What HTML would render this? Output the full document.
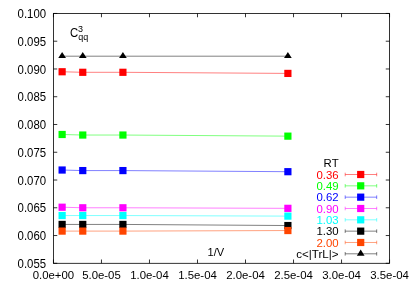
<!DOCTYPE html>
<html><head><meta charset="utf-8"><title>chart</title>
<style>html,body{margin:0;padding:0;background:#fff}body{width:409px;height:286px;overflow:hidden;font-family:"Liberation Sans",sans-serif}</style>
</head><body>
<svg width="409" height="286" viewBox="0 0 409 286" style="display:block;will-change:transform">
<rect width="409" height="286" fill="#fff"/>
<path d="M345.2 174.50H376.7M345.2 172.70v3.6M376.7 172.70v3.6" stroke="#ff0000" stroke-width="0.5" fill="none"/>
<rect x="357.10" y="170.90" width="7.2" height="7.2" fill="#ff0000"/>
<path d="M345.2 185.83H376.7M345.2 184.03v3.6M376.7 184.03v3.6" stroke="#00ff00" stroke-width="0.5" fill="none"/>
<rect x="357.10" y="182.23" width="7.2" height="7.2" fill="#00ff00"/>
<path d="M345.2 197.16H376.7M345.2 195.36v3.6M376.7 195.36v3.6" stroke="#0000ff" stroke-width="0.5" fill="none"/>
<rect x="357.10" y="193.56" width="7.2" height="7.2" fill="#0000ff"/>
<path d="M345.2 208.49H376.7M345.2 206.69v3.6M376.7 206.69v3.6" stroke="#ff00ff" stroke-width="0.5" fill="none"/>
<rect x="357.10" y="204.89" width="7.2" height="7.2" fill="#ff00ff"/>
<path d="M345.2 219.82H376.7M345.2 218.02v3.6M376.7 218.02v3.6" stroke="#00ffff" stroke-width="0.5" fill="none"/>
<rect x="357.10" y="216.22" width="7.2" height="7.2" fill="#00ffff"/>
<path d="M345.2 231.15H376.7M345.2 229.35v3.6M376.7 229.35v3.6" stroke="#000000" stroke-width="0.5" fill="none"/>
<rect x="357.10" y="227.55" width="7.2" height="7.2" fill="#000000"/>
<path d="M345.2 242.48H376.7M345.2 240.68v3.6M376.7 240.68v3.6" stroke="#ff4500" stroke-width="0.5" fill="none"/>
<rect x="357.10" y="238.88" width="7.2" height="7.2" fill="#ff4500"/>
<path d="M345.2 253.81H376.7M345.2 252.01v3.6M376.7 252.01v3.6" stroke="#000" stroke-width="0.5" fill="none"/>
<path d="M360.70 249.56l3.85 6.1h-7.7z" fill="#000"/>
<polyline points="62.13,56.20 82.76,56.20 122.92,56.20 287.89,56.20" stroke="#000" stroke-width="0.5" fill="none"/>
<path d="M62.13 51.95l3.85 6.1h-7.7z" fill="#000"/>
<path d="M82.76 51.95l3.85 6.1h-7.7z" fill="#000"/>
<path d="M122.92 51.95l3.85 6.1h-7.7z" fill="#000"/>
<path d="M287.89 51.95l3.85 6.1h-7.7z" fill="#000"/>
<polyline points="62.13,71.75 82.76,72.30 122.92,72.30 287.89,73.41" stroke="#ff0000" stroke-width="0.5" fill="none"/>
<rect x="58.53" y="68.15" width="7.2" height="7.2" fill="#ff0000"/>
<rect x="79.16" y="68.70" width="7.2" height="7.2" fill="#ff0000"/>
<rect x="119.32" y="68.70" width="7.2" height="7.2" fill="#ff0000"/>
<rect x="284.29" y="69.81" width="7.2" height="7.2" fill="#ff0000"/>
<polyline points="62.13,134.49 82.76,135.04 122.92,135.04 287.89,136.15" stroke="#00ff00" stroke-width="0.5" fill="none"/>
<rect x="58.53" y="130.89" width="7.2" height="7.2" fill="#00ff00"/>
<rect x="79.16" y="131.44" width="7.2" height="7.2" fill="#00ff00"/>
<rect x="119.32" y="131.44" width="7.2" height="7.2" fill="#00ff00"/>
<rect x="284.29" y="132.55" width="7.2" height="7.2" fill="#00ff00"/>
<polyline points="62.13,170.02 82.76,170.58 122.92,170.58 287.89,171.69" stroke="#0000ff" stroke-width="0.5" fill="none"/>
<rect x="58.53" y="166.42" width="7.2" height="7.2" fill="#0000ff"/>
<rect x="79.16" y="166.98" width="7.2" height="7.2" fill="#0000ff"/>
<rect x="119.32" y="166.98" width="7.2" height="7.2" fill="#0000ff"/>
<rect x="284.29" y="168.09" width="7.2" height="7.2" fill="#0000ff"/>
<polyline points="62.13,207.22 82.76,207.78 122.92,207.78 287.89,208.33" stroke="#ff00ff" stroke-width="0.5" fill="none"/>
<rect x="58.53" y="203.62" width="7.2" height="7.2" fill="#ff00ff"/>
<rect x="79.16" y="204.18" width="7.2" height="7.2" fill="#ff00ff"/>
<rect x="119.32" y="204.18" width="7.2" height="7.2" fill="#ff00ff"/>
<rect x="284.29" y="204.73" width="7.2" height="7.2" fill="#ff00ff"/>
<polyline points="62.13,215.55 82.76,215.55 122.92,215.55 287.89,216.11" stroke="#00ffff" stroke-width="0.5" fill="none"/>
<rect x="58.53" y="211.95" width="7.2" height="7.2" fill="#00ffff"/>
<rect x="79.16" y="211.95" width="7.2" height="7.2" fill="#00ffff"/>
<rect x="119.32" y="211.95" width="7.2" height="7.2" fill="#00ffff"/>
<rect x="284.29" y="212.51" width="7.2" height="7.2" fill="#00ffff"/>
<polyline points="62.13,224.43 82.76,224.43 122.92,224.43 287.89,225.54" stroke="#000000" stroke-width="0.5" fill="none"/>
<rect x="58.53" y="220.83" width="7.2" height="7.2" fill="#000000"/>
<rect x="79.16" y="220.83" width="7.2" height="7.2" fill="#000000"/>
<rect x="119.32" y="220.83" width="7.2" height="7.2" fill="#000000"/>
<rect x="284.29" y="221.94" width="7.2" height="7.2" fill="#000000"/>
<polyline points="62.13,231.10 82.76,231.10 122.92,231.10 287.89,230.54" stroke="#ff4500" stroke-width="0.5" fill="none"/>
<rect x="58.53" y="227.50" width="7.2" height="7.2" fill="#ff4500"/>
<rect x="79.16" y="227.50" width="7.2" height="7.2" fill="#ff4500"/>
<rect x="119.32" y="227.50" width="7.2" height="7.2" fill="#ff4500"/>
<rect x="284.29" y="226.94" width="7.2" height="7.2" fill="#ff4500"/>
<rect x="53.45" y="13.45" width="336.10" height="249.85" fill="none" stroke="#000" stroke-width="0.8"/>
<path d="M53.45 13.45h3.8M389.55 13.45h-3.8M53.45 41.21h3.8M389.55 41.21h-3.8M53.45 68.97h3.8M389.55 68.97h-3.8M53.45 96.73h3.8M389.55 96.73h-3.8M53.45 124.49h3.8M389.55 124.49h-3.8M53.45 152.26h3.8M389.55 152.26h-3.8M53.45 180.02h3.8M389.55 180.02h-3.8M53.45 207.78h3.8M389.55 207.78h-3.8M53.45 235.54h3.8M389.55 235.54h-3.8M53.45 263.30h3.8M389.55 263.30h-3.8M53.45 263.3v-3.8M53.45 13.45v3.8M101.46 263.3v-3.8M101.46 13.45v3.8M149.48 263.3v-3.8M149.48 13.45v3.8M197.49 263.3v-3.8M197.49 13.45v3.8M245.51 263.3v-3.8M245.51 13.45v3.8M293.52 263.3v-3.8M293.52 13.45v3.8M341.54 263.3v-3.8M341.54 13.45v3.8M389.55 263.3v-3.8M389.55 13.45v3.8" stroke="#000" stroke-width="0.8" fill="none"/>
<g font-family="Liberation Sans, sans-serif" font-size="11.4px" fill="#000">
<text transform="translate(46.10 18.05) scale(1 1.05)" text-anchor="end">0.100</text>
<text transform="translate(46.10 45.81) scale(1 1.05)" text-anchor="end">0.095</text>
<text transform="translate(46.10 73.57) scale(1 1.05)" text-anchor="end">0.090</text>
<text transform="translate(46.10 101.33) scale(1 1.05)" text-anchor="end">0.085</text>
<text transform="translate(46.10 129.09) scale(1 1.05)" text-anchor="end">0.080</text>
<text transform="translate(46.10 156.86) scale(1 1.05)" text-anchor="end">0.075</text>
<text transform="translate(46.10 184.62) scale(1 1.05)" text-anchor="end">0.070</text>
<text transform="translate(46.10 212.38) scale(1 1.05)" text-anchor="end">0.065</text>
<text transform="translate(46.10 240.14) scale(1 1.05)" text-anchor="end">0.060</text>
<text transform="translate(46.10 267.90) scale(1 1.05)" text-anchor="end">0.055</text>
<text transform="translate(53.45 279.00) scale(1 1.03)" text-anchor="middle">0.0e+00</text>
<text transform="translate(101.46 279.00) scale(1 1.03)" text-anchor="middle">5.0e-05</text>
<text transform="translate(149.48 279.00) scale(1 1.03)" text-anchor="middle">1.0e-04</text>
<text transform="translate(197.49 279.00) scale(1 1.03)" text-anchor="middle">1.5e-04</text>
<text transform="translate(245.51 279.00) scale(1 1.03)" text-anchor="middle">2.0e-04</text>
<text transform="translate(293.52 279.00) scale(1 1.03)" text-anchor="middle">2.5e-04</text>
<text transform="translate(341.54 279.00) scale(1 1.03)" text-anchor="middle">3.0e-04</text>
<text transform="translate(389.55 279.00) scale(1 1.03)" text-anchor="middle">3.5e-04</text>
<text transform="translate(207.50 255.80) scale(1 1.0)" font-size="11.1px">1/V</text>
<text transform="translate(69.90 37.20) scale(1 1.05)">C</text>
<text transform="translate(78.10 31.90) scale(1 1.05)" font-size="9px">3</text>
<text transform="translate(78.30 39.90) scale(1 1.05)" font-size="9px">qq</text>
<text transform="translate(338.60 167.27) scale(1 1.0)" text-anchor="end">RT</text>
<text transform="translate(338.60 178.60) scale(1 1.0)" text-anchor="end" fill="#ff0000">0.36</text>
<text transform="translate(338.60 189.93) scale(1 1.0)" text-anchor="end" fill="#00ff00">0.49</text>
<text transform="translate(338.60 201.26) scale(1 1.0)" text-anchor="end" fill="#0000ff">0.62</text>
<text transform="translate(338.60 212.59) scale(1 1.0)" text-anchor="end" fill="#ff00ff">0.90</text>
<text transform="translate(338.60 223.92) scale(1 1.0)" text-anchor="end" fill="#00ffff">1.03</text>
<text transform="translate(338.60 235.25) scale(1 1.0)" text-anchor="end" fill="#000000">1.30</text>
<text transform="translate(338.60 246.58) scale(1 1.0)" text-anchor="end" fill="#ff4500">2.00</text>
<text transform="translate(338.60 257.91) scale(1 1.0)" text-anchor="end" font-size="11.6px">c&lt;|TrL|&gt;</text>
</g>
</svg>
</body></html>
